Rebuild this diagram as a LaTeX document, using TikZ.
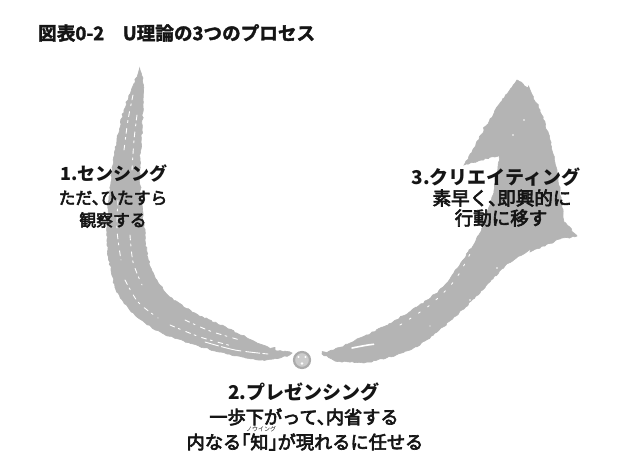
\documentclass[tikz,border=0pt]{standalone}
\usepackage{fontspec}
\setmainfont{Noto Sans CJK JP}
\newfontfamily\jpmid{Noto Sans CJK JP}[FakeBold=3.5]
\newfontfamily\jpblack{Noto Sans CJK JP Bold}[FakeBold=2]
\usetikzlibrary{decorations.pathmorphing}
\definecolor{brushgray}{HTML}{B4B4B4}
\definecolor{ink}{HTML}{151515}
\tikzset{
  brush/.style={fill=brushgray, draw=brushgray, line width=0.6pt,
    decorate, decoration={random steps, segment length=2.5pt, amplitude=0.8pt}},
  streak/.style={draw=white, line width=0.9pt, line cap=round, dash pattern=on 5pt off 4pt on 2pt off 6pt},
  speck/.style={fill=white},
  headS/.style={text=ink, font=\bfseries\fontsize{18}{18}\selectfont, inner sep=0pt, anchor=center},
  headL/.style={text=ink, font=\bfseries\fontsize{19}{19}\selectfont, inner sep=0pt, anchor=center},
  bodyS/.style={text=ink, font=\jpmid\fontsize{16.8}{16.8}\selectfont, inner sep=0pt, anchor=center},
  bodyR/.style={text=ink, font=\jpmid\fontsize{18.5}{18.5}\selectfont, inner sep=0pt, anchor=center},
  bodyB/.style={text=ink, font=\jpmid\fontsize{18.2}{18.2}\selectfont, inner sep=0pt, anchor=center},
  titlestyle/.style={text=ink, font=\jpblack\fontsize{18.6}{18.6}\selectfont, inner sep=0pt, anchor=west},
  rubystyle/.style={text=ink, font=\fontsize{6}{6}\selectfont, inner sep=0pt, anchor=center},
}
\newcommand\tten{、\kern-0.5em}
\newcommand\kakko[1]{\kern-0.5em「#1」\kern-0.5em}
\begin{document}
\begin{tikzpicture}[x=1pt,y=-1pt]
\useasboundingbox (0,0) rectangle (621,474);
\fill[white] (0,0) rectangle (621,474);

% left brush stroke (sensing)
\path[brush] plot[smooth, tension=0.6] coordinates {(140,70) (132,88) (124,110) (117,140) (113,165) (109,200) (107,240) (111,270) (118,293) (135,315) (162,333) (193,344) (227,354) (260,360) (280,358) (292,353)}
  -- plot[smooth, tension=0.6] coordinates {(275,350) (260,344) (227,328) (195,313) (172,298) (157,280) (148,258) (145,235) (141,200) (140,165) (142,130) (143,100) (143,78)} -- cycle;

% right brush stroke with arrow head (creating)
\path[brush] plot[smooth, tension=0.5] coordinates {(322,354) (350,343) (383,327) (417,307) (443,287) (463,260) (480,233) (490,205) (497,175) (500,155)}
  -- (464,165)
  -- plot[smooth, tension=0.5] coordinates {(484,130) (500,103) (517,80)}
  -- plot[smooth, tension=0.5] coordinates {(528,88) (540,110) (550,140) (557,170) (561,200) (564,222)}
  -- (577,236) -- (560,239)
  -- plot[smooth, tension=0.5] coordinates {(530,252) (507,264) (480,293) (443,327) (410,350) (367,362) (335,361)} -- cycle;

% dry-brush streaks
\draw[streak] plot[smooth] coordinates {(133,95) (128,120) (124,150)};
\draw[streak] plot[smooth] coordinates {(137,115) (134,140) (132,170)};
\draw[streak] plot[smooth] coordinates {(118,200) (117,230) (121,260)};
\draw[streak] plot[smooth] coordinates {(130,235) (133,262) (142,285)};
\draw[streak] plot[smooth] coordinates {(125,280) (138,302) (158,318)};
\draw[streak] plot[smooth] coordinates {(170,325) (200,337) (232,346)};
\draw[streak, dash pattern=on 14pt off 3pt on 20pt off 5pt] plot[smooth] coordinates {(205,342) (235,350) (268,354)};
\draw[streak] plot[smooth] coordinates {(185,320) (210,331) (240,340)};
\draw[streak, line width=1.6pt, dash pattern=on 22pt off 40pt] plot[smooth] coordinates {(352,348) (368,345) (385,343)};
\draw[streak, dash pattern=on 2pt off 9pt] plot[smooth] coordinates {(400,325) (430,305) (455,280) (472,250)};
\fill[speck] (524,120) circle (0.9pt) (513,135) circle (0.8pt) (497,268) circle (0.8pt) (470,300) circle (0.8pt) (430,326) circle (0.7pt);

% small circle at the bottom
\node[circle, draw=brushgray!95!black, line width=2.2pt, fill=brushgray!70, inner sep=0pt, minimum size=16pt] (dot) at (302,360) {};
\fill[speck] (298.5,357) circle (1.2pt) (305.5,357) circle (1.2pt) (302,363.5) circle (1.3pt);

% title
\node[titlestyle] (title) at (38,33) {図表0-2　U理論の3つのプロセス};

% 1. sensing
\node[headS] (s1) at (114,173) {1.センシング};
\node[bodyS] (s2) at (113,198) {ただ\tten ひたすら};
\node[bodyS] (s3) at (113,220) {観察する};

% 3. creating
\node[headL] (c1) at (496,177) {3.クリエイティング};
\node[bodyR] (c2) at (502,198) {素早く\tten 即興的に};
\node[bodyR] (c3) at (501,218) {行動に移す};

% 2. presencing
\node[headL] (p1) at (304,392) {2.プレゼンシング};
\node[bodyB] (p2) at (304,417) {一歩下がって\tten 内省する};
\node[bodyB] (p3) at (305,442) {内なる\kakko{知}が現れるに任せる};
\node[rubystyle] (ruby) at (261,429) {ノウイング};
\end{tikzpicture}
\end{document}
